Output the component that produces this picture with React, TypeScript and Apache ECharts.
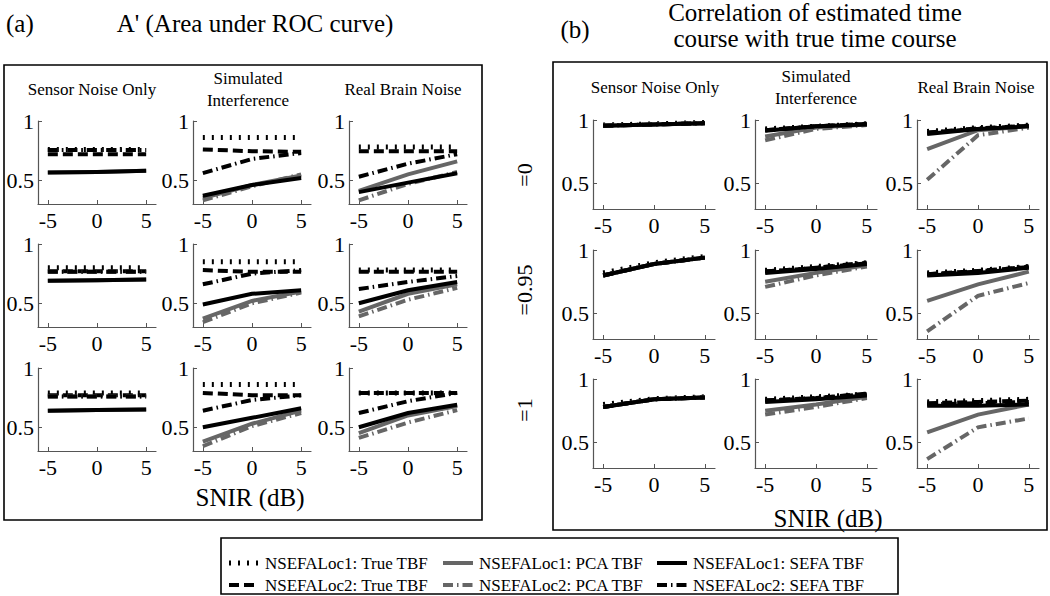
import React, { useEffect, useRef } from "react";
import * as echarts from "echarts";

// ---------------- data ----------------
const snir = [-5, 0, 5];
const xTickValues = [-5, 0, 5];
const yTickValues = [0.5, 1];
const seriesNames = [
  "NSEFALoc1: True TBF",
  "NSEFALoc2: True TBF",
  "NSEFALoc1: PCA TBF",
  "NSEFALoc2: PCA TBF",
  "NSEFALoc1: SEFA TBF",
  "NSEFALoc2: SEFA TBF",
];
const conditions = ["Sensor Noise Only", "Simulated\nInterference", "Real Brain Noise"];
const rhoLabels = ["=0", "=0.95", "=1"];
const panelATitle = "A' (Area under ROC curve)";
const panelBTitle = "Correlation of estimated time\ncourse with true time course";
const xAxisTitle = "SNIR (dB)";

// order in each array: True1, True2, PCA1, PCA2, SEFA1, SEFA2 ; values at SNIR -5, 0, 5
// Panel (a): A'
const aRho0Sensor = [[0.76, 0.76, 0.76], [0.72, 0.72, 0.72], [0.565, 0.57, 0.58], [0.755, 0.755, 0.755], [0.565, 0.57, 0.58], [0.755, 0.755, 0.755]];
const aRho0Sim = [[0.86, 0.86, 0.86], [0.76, 0.745, 0.74], [0.35, 0.46, 0.54], [0.33, 0.45, 0.55], [0.37, 0.46, 0.52], [0.56, 0.68, 0.73]];
const aRho0Real = [[0.78, 0.78, 0.78], [0.745, 0.745, 0.745], [0.41, 0.55, 0.66], [0.33, 0.47, 0.57], [0.40, 0.48, 0.56], [0.53, 0.64, 0.72]];
const aRho95Sensor = [[0.80, 0.80, 0.80], [0.77, 0.77, 0.77], [0.69, 0.695, 0.70], [0.765, 0.765, 0.765], [0.69, 0.695, 0.70], [0.765, 0.765, 0.765]];
const aRho95Sim = [[0.85, 0.85, 0.85], [0.78, 0.765, 0.765], [0.37, 0.52, 0.60], [0.34, 0.50, 0.59], [0.49, 0.58, 0.61], [0.66, 0.75, 0.78]];
const aRho95Real = [[0.78, 0.78, 0.78], [0.765, 0.765, 0.765], [0.43, 0.58, 0.66], [0.39, 0.53, 0.63], [0.50, 0.61, 0.68], [0.62, 0.68, 0.73]];
const aRho1Sensor = [[0.79, 0.79, 0.79], [0.77, 0.77, 0.77], [0.64, 0.645, 0.65], [0.76, 0.76, 0.76], [0.64, 0.645, 0.65], [0.76, 0.76, 0.76]];
const aRho1Sim = [[0.86, 0.86, 0.86], [0.79, 0.77, 0.77], [0.38, 0.53, 0.64], [0.34, 0.51, 0.62], [0.50, 0.58, 0.66], [0.64, 0.73, 0.77]];
const aRho1Real = [[0.79, 0.79, 0.79], [0.79, 0.79, 0.79], [0.45, 0.60, 0.68], [0.41, 0.54, 0.645], [0.50, 0.62, 0.69], [0.62, 0.72, 0.79]];

// Panel (b): correlation
const bRho0Sensor = [[0.96, 0.97, 0.98], [0.955, 0.965, 0.975], [0.955, 0.965, 0.975], [0.955, 0.965, 0.975], [0.955, 0.965, 0.975], [0.955, 0.965, 0.975]];
const bRho0Sim = [[0.93, 0.95, 0.97], [0.92, 0.95, 0.97], [0.87, 0.94, 0.965], [0.84, 0.93, 0.96], [0.915, 0.95, 0.965], [0.92, 0.95, 0.97]];
const bRho0Real = [[0.91, 0.94, 0.96], [0.90, 0.93, 0.955], [0.77, 0.92, 0.95], [0.53, 0.88, 0.94], [0.89, 0.93, 0.95], [0.90, 0.935, 0.955]];
const bRho95Sensor = [[0.82, 0.90, 0.95], [0.80, 0.89, 0.94], [0.80, 0.89, 0.94], [0.80, 0.89, 0.94], [0.80, 0.89, 0.94], [0.80, 0.89, 0.94]];
const bRho95Sim = [[0.84, 0.87, 0.90], [0.83, 0.86, 0.895], [0.75, 0.82, 0.88], [0.71, 0.80, 0.87], [0.82, 0.85, 0.89], [0.83, 0.86, 0.90]];
const bRho95Real = [[0.82, 0.84, 0.87], [0.81, 0.835, 0.865], [0.60, 0.73, 0.83], [0.36, 0.64, 0.74], [0.80, 0.82, 0.86], [0.81, 0.83, 0.87]];
const bRho1Sensor = [[0.80, 0.845, 0.86], [0.78, 0.84, 0.855], [0.78, 0.84, 0.855], [0.78, 0.84, 0.855], [0.78, 0.84, 0.855], [0.78, 0.84, 0.855]];
const bRho1Sim = [[0.84, 0.86, 0.88], [0.83, 0.85, 0.885], [0.75, 0.80, 0.86], [0.72, 0.78, 0.85], [0.82, 0.84, 0.87], [0.83, 0.85, 0.88]];
const bRho1Real = [[0.82, 0.83, 0.84], [0.81, 0.82, 0.83], [0.58, 0.72, 0.80], [0.37, 0.62, 0.69], [0.79, 0.79, 0.80], [0.80, 0.81, 0.82]];

const panelAData = [
  [aRho0Sensor, aRho0Sim, aRho0Real],
  [aRho95Sensor, aRho95Sim, aRho95Real],
  [aRho1Sensor, aRho1Sim, aRho1Real],
];
const panelBData = [
  [bRho0Sensor, bRho0Sim, bRho0Real],
  [bRho95Sensor, bRho95Sim, bRho95Real],
  [bRho1Sensor, bRho1Sim, bRho1Real],
];

// ---------------- styles / layout ----------------
const FONT = "'Liberation Serif', 'Times New Roman', serif";
const DOT = [2, 7];
const DASH = [10, 5];
const DASHDOT = [10, 4, 1.5, 4];
const lineStyles = [
  { color: "#000", width: 5, type: DOT },
  { color: "#000", width: 4, type: DASH },
  { color: "#666", width: 4, type: "solid" },
  { color: "#666", width: 4, type: DASHDOT },
  { color: "#000", width: 4, type: "solid" },
  { color: "#000", width: 4, type: DASHDOT },
];

const panelLayouts = [
  { cols: [38, 193, 349], width: 118, bottoms: [204, 327, 451], height: 83, data: panelAData },
  { cols: [593, 755, 917], width: 122, bottoms: [209, 339, 468], height: 89, data: panelBData },
];

function buildOption() {
  const grid: any[] = [];
  const xAxis: any[] = [];
  const yAxis: any[] = [];
  const series: any[] = [];
  let idx = 0;
  panelLayouts.forEach((p) => {
    p.data.forEach((row, r) => {
      row.forEach((cell, c) => {
        grid.push({ left: p.cols[c], top: p.bottoms[r] - p.height, width: p.width, height: p.height });
        xAxis.push({
          type: "value", gridIndex: idx, min: -6, max: 6,
          axisLine: { show: true, onZero: false, lineStyle: { color: "#555", width: 1.2 } },
          axisTick: { show: true, inside: true, length: 4, customValues: xTickValues, lineStyle: { color: "#555" } },
          axisLabel: { customValues: xTickValues, color: "#000", fontSize: 22, fontFamily: FONT, margin: 5 },
          splitLine: { show: false },
        });
        yAxis.push({
          type: "value", gridIndex: idx, min: 0.3, max: 1,
          axisLine: { show: true, onZero: false, lineStyle: { color: "#555", width: 1.2 } },
          axisTick: { show: true, inside: true, length: 4, customValues: yTickValues, lineStyle: { color: "#555" } },
          axisLabel: { customValues: yTickValues, color: "#000", fontSize: 22, fontFamily: FONT, margin: 4,
            formatter: (v: number) => (v === 1 ? "1" : String(v)) },
          splitLine: { show: false },
        });
        cell.forEach((vals, s) => {
          series.push({
            type: "line", name: seriesNames[s], xAxisIndex: idx, yAxisIndex: idx,
            data: snir.map((x, i) => [x, vals[i]]),
            showSymbol: false, symbol: "none", silent: true,
            lineStyle: { ...lineStyles[s], cap: "butt", join: "miter" },
            z: 2 + s,
          });
        });
        idx++;
      });
    });
  });

  const txt = (text: string, x: number, y: number, size: number, extra: any = {}) => ({
    type: "text", x, y, silent: true, ...extra,
    style: { text, fill: "#000", fontSize: size, fontFamily: FONT, align: extra.align || "center", verticalAlign: "middle", lineHeight: extra.lineHeight },
  });

  const graphic: any[] = [
    { type: "rect", shape: { x: 4, y: 65, width: 478, height: 455 }, style: { fill: "none", stroke: "#000", lineWidth: 1.6 } },
    { type: "rect", shape: { x: 553, y: 62, width: 494, height: 468 }, style: { fill: "none", stroke: "#000", lineWidth: 1.6 } },
    txt("(a)", 6, 23, 25, { align: "left" }),
    txt(panelATitle, 255, 23, 25),
    txt("(b)", 575, 29, 25),
    txt(panelBTitle, 815, 25, 25, { lineHeight: 26 }),
    txt(xAxisTitle, 250, 497, 25),
    txt(xAxisTitle, 828, 518, 25),
  ];
  const aTitleX = [92, 248, 403];
  const bTitleX = [655, 816, 976];
  conditions.forEach((t, i) => {
    graphic.push(txt(t, aTitleX[i], 89, 17, { lineHeight: 22 }));
    graphic.push(txt(t, bTitleX[i], 87, 17, { lineHeight: 22 }));
  });
  const rhoY = [175, 290, 410];
  rhoLabels.forEach((t, i) => {
    graphic.push(txt(t, 524, rhoY[i], 22, { rotation: Math.PI / 2 }));
  });
  // legend
  graphic.push({ type: "rect", shape: { x: 221, y: 538, width: 677, height: 56 }, style: { fill: "none", stroke: "#000", lineWidth: 1.6 } });
  const legColX = [229, 443, 657];
  const legRowY = [563, 585];
  seriesNames.forEach((n, i) => {
    const c = Math.floor(i / 2);
    const r = i % 2;
    const ls = lineStyles[i];
    graphic.push({
      type: "line", silent: true,
      shape: { x1: legColX[c], y1: legRowY[r], x2: legColX[c] + 30, y2: legRowY[r] },
      style: { stroke: ls.color, lineWidth: ls.width, lineDash: Array.isArray(ls.type) ? ls.type : null, lineCap: "butt" },
    });
    graphic.push(txt(n, legColX[c] + 36, legRowY[r], 17, { align: "left" }));
  });

  return { animation: false, grid, xAxis, yAxis, series, graphic };
}

export default function App() {
  const ref = useRef<HTMLDivElement>(null);
  useEffect(() => {
    if (!ref.current) return;
    const chart = echarts.init(ref.current, undefined, { renderer: "svg" });
    chart.setOption(buildOption() as any);
    return () => chart.dispose();
  }, []);
  return (
    <div
      ref={ref}
      style={{ position: "fixed", left: 0, top: 0, width: 1050, height: 596, background: "#fff" }}
    />
  );
}
